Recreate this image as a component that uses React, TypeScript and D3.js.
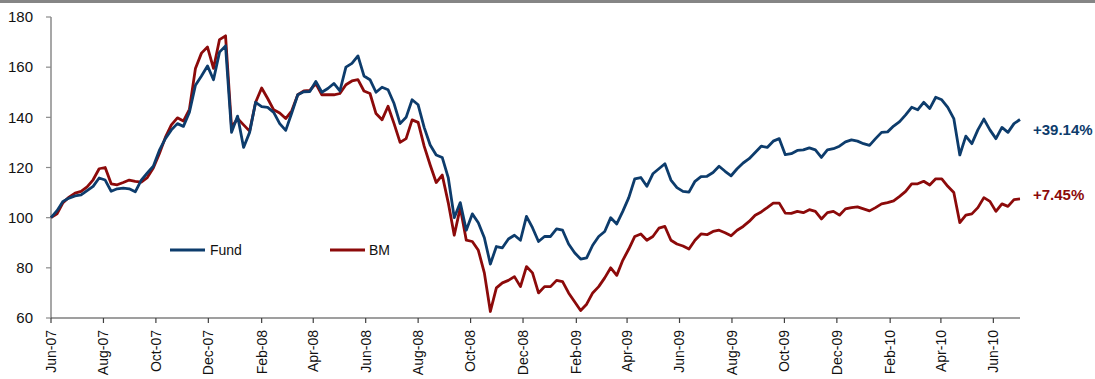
import React from "react";
import * as d3 from "d3";

// Weekly index levels, rebased to 100 at the start of June 2007
const startDate = new Date(2007, 5, 1);
const endDate = new Date(2010, 6, 2);

const fundValues = [
  100, 102.8, 106.5, 107.8, 108.7, 109.1, 110.8, 112.5, 115.8, 115,
  110.5, 111.5, 111.8, 111.5, 110.3, 115, 117.8, 120.5, 126.8, 131.5,
  135, 137.5, 136.4, 142, 152.8, 156.5, 160.5, 155, 166, 168.5,
  134, 140.5, 128, 134, 146, 144.3, 144, 142, 137.5, 134.8,
  141.7, 149, 150.2, 150.3, 154.3, 150, 151.5, 153.5, 150.5, 160,
  161.5, 164.5, 156.5, 155, 150, 152, 151, 145.5, 137.5, 140,
  147, 145, 136, 129, 125, 124, 116, 100, 106, 95,
  101.5, 98, 92, 81.5, 88.5, 88, 91.5, 93, 91, 100.5,
  96, 90.5, 92.5, 92.5, 95.5, 95, 89.5, 86, 83.5, 84,
  89, 92.5, 94.5, 100, 97.5, 102.5, 108, 115.5, 116, 112.5,
  117.5, 119.5, 121.5, 115, 112, 110.5, 110.2, 114.5, 116.4, 116.5,
  118, 120.5, 118.5, 116.7, 119.5, 121.8, 123.5, 126, 128.5, 128,
  130.5, 131.5, 125.1, 125.5, 126.8, 127, 127.8, 127, 124, 127,
  127.5, 128.5, 130.2, 131, 130.5, 129.5, 128.8, 131.5, 134, 134.2,
  136.5, 138.3, 141, 144, 143, 146, 143.5, 148, 147, 144,
  139.5, 125, 132.5, 129.5, 135, 139.3, 135, 131.5, 136, 134,
  137.5, 139.14,
];

const bmValues = [
  100, 101.5, 106, 108.2, 109.8, 110.5, 112.3, 115.1, 119.5, 120,
  113.5, 113.1, 114, 115, 114.5, 114.2, 116, 119.8, 125.5, 132,
  137, 139.8, 138.5, 143.2, 159.5, 165.6, 168, 159.5, 171, 172.5,
  136, 139.5, 137, 134.5, 146, 151.7, 147.5, 143, 141.7, 139.5,
  142.6, 149, 150.5, 150.7, 153.5, 149, 149, 149, 149.5, 153,
  154.5, 155, 150.5, 149.5, 141.5, 139, 144.4, 137.5, 130, 131.5,
  139, 138, 128.5, 121, 114, 117, 106, 93, 104, 91,
  90.5, 87, 78, 62.6, 72, 74, 75, 76.5, 72.5, 80.5,
  78, 70, 72.5, 72.5, 75, 74.5, 70, 66.5, 63, 65.5,
  70, 72.5, 76, 80, 77, 83, 87.5, 92.5, 93.5, 91,
  92.5, 95.8, 96.5, 91, 89.5, 88.7, 87.5, 91, 93.5, 93.2,
  94.5, 95, 94, 92.8, 95, 96.5, 98.5, 101, 102.3, 104,
  105.8, 105.8, 101.8, 101.7, 102.5, 102, 103.2, 102.5, 99.5, 102,
  102.5, 101, 103.5, 104, 104.3, 103.5, 102.7, 104, 105.5, 106,
  106.7, 108.5, 110.5, 113.5, 113.5, 114.5, 113, 115.5, 115.5, 112.5,
  110, 98, 101, 101.5, 104, 108, 106.5, 102.5, 105.5, 104.5,
  107.2, 107.45,
];

const yTicks = [60, 80, 100, 120, 140, 160, 180];
const seriesNames = ["Fund", "BM"];
const returnLabels = ["+39.14%", "+7.45%"];

const FUND_COLOR = "#0d3c6c";
const BM_COLOR = "#8c0a0a";
const FONT = "Arial, 'Liberation Sans', Helvetica, sans-serif";

const W = 1095;
const H = 379;
const left = 51;
const right = 1020;
const top = 17;
const bottom = 318;

export default function App() {
  const x = d3.scaleTime().domain([startDate, endDate]).range([left, right]);
  const y = d3.scaleLinear().domain([60, 180]).range([bottom, top]);

  const dates = fundValues.map((_, i) => d3.timeDay.offset(startDate, i * 7));
  const line = d3
    .line<number>()
    .x((_, i) => x(dates[i]))
    .y((v) => y(v));

  const xTicks = d3.timeMonth.range(startDate, endDate, 2);
  const fmt = d3.timeFormat("%b-%y");

  const lastFund = fundValues[fundValues.length - 1];
  const lastBm = bmValues[bmValues.length - 1];

  return (
    <svg
      width={W}
      height={H}
      style={{ position: "absolute", left: 0, top: 0, background: "#fff" }}
      fontFamily={FONT}
    >
      <rect x={0} y={0} width={W} height={3} fill="#858585" />

      {/* y axis */}
      <line x1={left} x2={left} y1={top} y2={bottom} stroke="#8a8a8a" strokeWidth={1.5} />
      {yTicks.map((t) => (
        <g key={t}>
          <line x1={left - 5} x2={left} y1={y(t)} y2={y(t)} stroke="#8a8a8a" strokeWidth={1.2} />
          <text x={33} y={y(t)} dy="0.35em" textAnchor="end" fontSize={15} fill="#111">
            {t}
          </text>
        </g>
      ))}

      {/* x axis */}
      <line x1={left} x2={right} y1={bottom} y2={bottom} stroke="#404040" strokeWidth={1.2} />
      {xTicks.map((d) => (
        <g key={+d}>
          <line x1={x(d)} x2={x(d)} y1={bottom} y2={bottom + 5} stroke="#404040" strokeWidth={1.2} />
          <text
            transform={`translate(${x(d)},${bottom + 12}) rotate(-90)`}
            dy="0.35em"
            textAnchor="end"
            fontSize={14}
            fill="#111"
          >
            {fmt(d)}
          </text>
        </g>
      ))}

      {/* series */}
      <path d={line(bmValues) || ""} fill="none" stroke={BM_COLOR} strokeWidth={2.8} strokeLinejoin="round" />
      <path d={line(fundValues) || ""} fill="none" stroke={FUND_COLOR} strokeWidth={2.8} strokeLinejoin="round" />

      {/* legend */}
      <line x1={170} x2={205} y1={250} y2={250} stroke={FUND_COLOR} strokeWidth={2.8} />
      <text x={210} y={250} dy="0.35em" fontSize={14} fill="#111">
        {seriesNames[0]}
      </text>
      <line x1={330} x2={365} y1={250} y2={250} stroke={BM_COLOR} strokeWidth={2.8} />
      <text x={369} y={250} dy="0.35em" fontSize={14} fill="#111">
        {seriesNames[1]}
      </text>

      {/* end-of-period returns */}
      <text x={1033} y={y(lastFund) + 10} dy="0.35em" fontSize={15} fontWeight="bold" fill={FUND_COLOR}>
        {returnLabels[0]}
      </text>
      <text x={1033} y={y(lastBm) - 4} dy="0.35em" fontSize={15} fontWeight="bold" fill={BM_COLOR}>
        {returnLabels[1]}
      </text>
    </svg>
  );
}
